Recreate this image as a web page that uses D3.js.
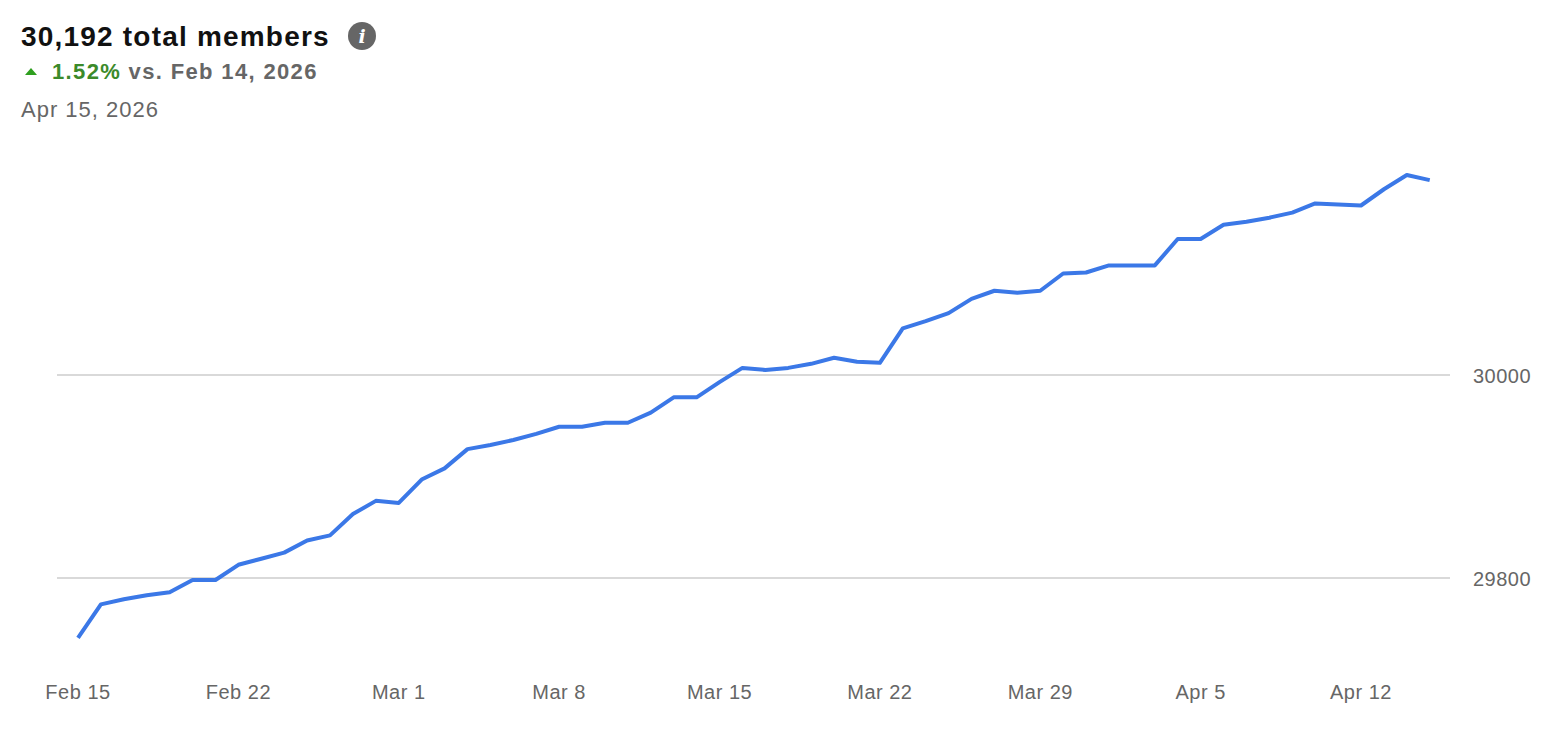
<!DOCTYPE html>
<meta charset="utf-8">
<html>
<head>
<style>
  body { margin: 0; background: #fff; font-family: "Helvetica Neue", "Liberation Sans", Arial, sans-serif; }
</style>
</head>
<body>
<script src="https://d3js.org/d3.v7.min.js"></script>
<script>
// daily member counts, Feb 15 .. Apr 15 2026
const startDate = new Date(2026, 1, 15);
const members = [
  29741, 29774, 29779, 29783, 29786, 29798, 29798, 29813, 29819, 29825,
  29837, 29842, 29863, 29876, 29874, 29897, 29908, 29927, 29931, 29936,
  29942, 29949, 29949, 29953, 29953, 29963, 29978, 29978, 29993, 30007,
  30005, 30007, 30011, 30017, 30013, 30012, 30046, 30053, 30061, 30075,
  30083, 30081, 30083, 30100, 30101, 30108, 30108, 30108, 30134, 30134,
  30148, 30151, 30155, 30160, 30169, 30168, 30167, 30183, 30197, 30192
];
const yTicks = [29800, 30000];
const xTickDates = ["2026-02-15", "2026-02-22", "2026-03-01", "2026-03-08", "2026-03-15",
                    "2026-03-22", "2026-03-29", "2026-04-05", "2026-04-12"];

const data = members.map((v, i) => ({ date: d3.timeDay.offset(startDate, i), value: v }));

const width = 1562, height = 730;
const svg = d3.select("body").append("svg").attr("width", width).attr("height", height);

const x = d3.scaleTime()
    .domain([startDate, d3.timeDay.offset(startDate, 56)])
    .range([78, 1361]);
const y = d3.scaleLinear().domain([29800, 30000]).range([578, 375]);

// header
svg.append("text").attr("x", 21).attr("y", 46)
  .style("font-size", "28px").style("font-weight", "bold").style("fill", "#111")
  .style("letter-spacing", "1.2px")
  .text("30,192 total members");
const info = svg.append("g").attr("transform", "translate(362,36)");
info.append("circle").attr("r", 14).style("fill", "#666");
info.append("text").attr("y", 7).attr("text-anchor", "middle")
  .style("font-size", "19px").style("font-weight", "bold").style("font-style", "italic")
  .style("font-family", "Georgia, 'DejaVu Serif', serif").style("fill", "#fff").text("i");

svg.append("path").attr("d", "M25,75 L31,68 L37,75 Z").style("fill", "#2f9f1f");
const sub = svg.append("text").attr("x", 52).attr("y", 79)
  .style("font-size", "22px").style("font-weight", "bold").style("letter-spacing", "1.35px");
sub.append("tspan").style("fill", "#3b8a2a").text("1.52%");
sub.append("tspan").style("fill", "#666").text(" vs. Feb 14, 2026");

svg.append("text").attr("x", 21).attr("y", 117)
  .style("font-size", "22px").style("fill", "#666").style("letter-spacing", "1px")
  .text("Apr 15, 2026");

// grid + y labels
svg.append("g").selectAll("line").data(yTicks).join("line")
  .attr("x1", 57).attr("x2", 1450)
  .attr("y1", d => y(d)).attr("y2", d => y(d))
  .style("stroke", "#ccc").style("stroke-width", 1.5);
svg.append("g").selectAll("text").data(yTicks).join("text")
  .attr("x", 1473).attr("y", d => y(d) + 8)
  .style("font-size", "20px").style("fill", "#666").style("letter-spacing", "0.5px").text(d => d);

// x labels
svg.append("g").selectAll("text").data(xTickDates.map(d3.timeParse("%Y-%m-%d"))).join("text")
  .attr("x", d => x(d)).attr("y", 699).attr("text-anchor", "middle")
  .style("font-size", "20px").style("fill", "#666").style("letter-spacing", "0.5px")
  .text(d3.timeFormat("%b %-d"));

// line
const line = d3.line().x(d => x(d.date)).y(d => y(d.value));
svg.append("path").datum(data).attr("d", line)
  .style("fill", "none").style("stroke", "#3b78e7").style("stroke-width", 4)
  .style("stroke-linejoin", "round");
</script>
</body>
</html>
